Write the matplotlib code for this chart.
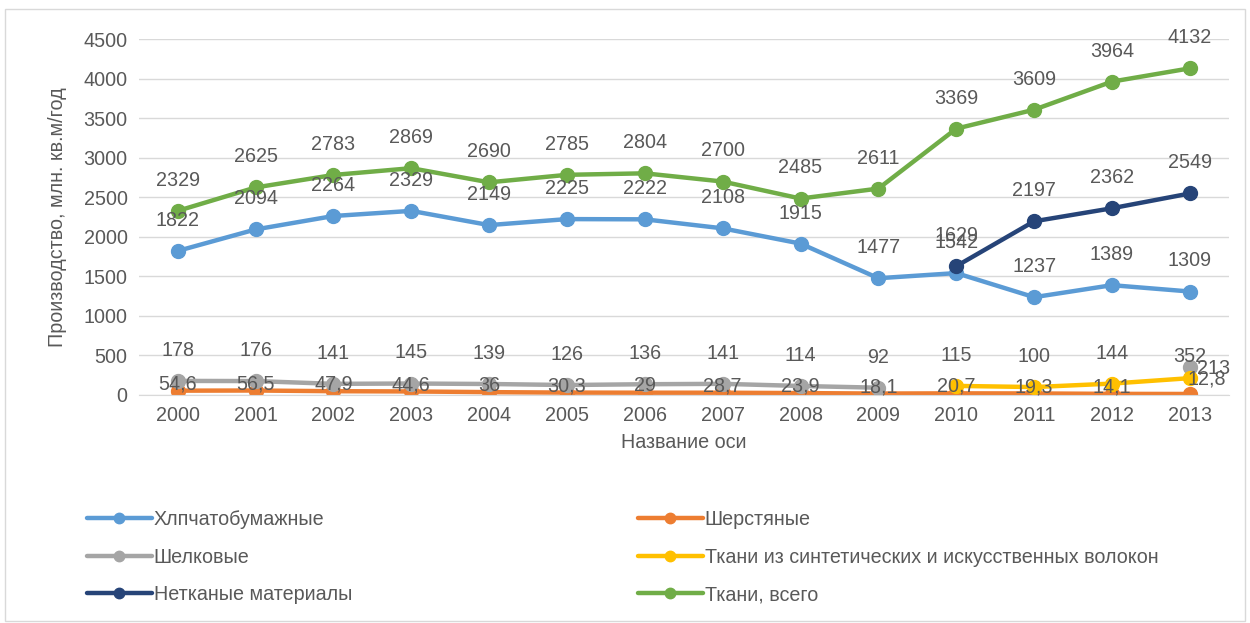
import matplotlib
matplotlib.use("Agg")
import matplotlib.pyplot as plt
from matplotlib.patches import Rectangle

plt.rcParams['font.family'] = ['Liberation Sans', 'DejaVu Sans']

years = ['2000', '2001', '2002', '2003', '2004', '2005', '2006',
         '2007', '2008', '2009', '2010', '2011', '2012', '2013']

cotton = [1822, 2094, 2264, 2329, 2149, 2225, 2222, 2108, 1915, 1477, 1542, 1237, 1389, 1309]
wool = [54.6, 56.5, 47.9, 44.6, 36, 30.3, 29, 28.7, 23.9, 18.1, 20.7, 19.3, 14.1, 12.8]
silk = [178, 176, 141, 145, 139, 126, 136, 141, 114, 92, None, None, None, 352]
synth = [None] * 10 + [115, 100, 144, 213]
nonwoven = [None] * 10 + [1629, 2197, 2362, 2549]
total = [2329, 2625, 2783, 2869, 2690, 2785, 2804, 2700, 2485, 2611, 3369, 3609, 3964, 4132]

names = ['Хлпчатобумажные', 'Шерстяные', 'Шелковые',
         'Ткани из синтетических и искусственных волокон',
         'Нетканые материалы', 'Ткани, всего']
colors = ['#5B9BD5', '#ED7D31', '#A5A5A5', '#FFC000', '#264478', '#70AD47']

txt = '#595959'
fs = 14.2

fig = plt.figure(figsize=(12.5, 6.23), dpi=100)
ax = fig.add_axes([0.111, 0.366, 0.872, 0.571])
fig.patches.append(Rectangle((0.004, 0.003), 0.992, 0.983, transform=fig.transFigure,
                             fill=False, edgecolor='#D9D9D9', linewidth=1))

x = list(range(len(years)))
series = [cotton, wool, silk, synth, nonwoven, total]
handles = []
for vals, name, c in zip(series, names, colors):
    # split into runs so gaps stay empty
    runs, cur = [], []
    for i, v in zip(x, vals):
        if v is None:
            if cur:
                runs.append(cur)
            cur = []
        else:
            cur.append((i, v))
    if cur:
        runs.append(cur)
    for r in runs:
        h, = ax.plot([p[0] for p in r], [p[1] for p in r], color=c, linewidth=3.2,
                     marker='o', markersize=10, solid_capstyle='round', label=name)
    handles.append(h)


def fmt(v):
    return ('%g' % v).replace('.', ',')


def labels(vals, dx=0, dy=22, skip=()):
    for i, v in zip(x, vals):
        if v is None or i in skip:
            continue
        ax.annotate(fmt(v), (i, v), xytext=(dx, dy), textcoords='offset points',
                    ha='center', va='center', fontsize=fs, color=txt)


labels(cotton)
labels(silk, skip=(13,))
labels(total)
labels(nonwoven)
labels(synth, skip=(13,))
labels(wool, dy=5, skip=(13,))
ax.annotate(fmt(silk[13]), (13, silk[13]), xytext=(0, 8), textcoords='offset points',
            ha='center', va='center', fontsize=fs, color=txt)
ax.annotate(fmt(wool[13]), (13, wool[13]), xytext=(12, 11), textcoords='offset points',
            ha='center', va='center', fontsize=fs, color=txt)
ax.annotate(fmt(synth[13]), (13, synth[13]), xytext=(17, 7), textcoords='offset points',
            ha='center', va='center', fontsize=fs, color=txt)

ax.set_xlim(-0.5, 13.5)
ax.set_ylim(0, 4500)
ax.set_yticks(range(0, 4501, 500))
ax.set_xticks(x)
ax.set_xticklabels(years)
ax.grid(axis='y', color='#D9D9D9', linewidth=1)
ax.set_axisbelow(True)
for s in ['top', 'right', 'left']:
    ax.spines[s].set_visible(False)
ax.spines['bottom'].set_color('#D9D9D9')
ax.tick_params(axis='both', length=0, labelsize=fs, colors=txt, pad=8)
ax.set_xlabel('Название оси', fontsize=fs, color=txt, labelpad=6)
ax.set_ylabel('Производство, млн. кв.м/год', fontsize=fs, color=txt, labelpad=12)

leg_kw = dict(frameon=False, fontsize=fs, handlelength=3.3, handletextpad=0.1,
              labelspacing=0.95, labelcolor=txt, markerscale=0.75)
l1 = fig.legend(handles[0::2], names[0::2], loc='upper left',
                bbox_to_anchor=(0.055, 0.21), **leg_kw)
l2 = fig.legend(handles[1::2], names[1::2], loc='upper left',
                bbox_to_anchor=(0.496, 0.21), **leg_kw)

fig.savefig('out.png', dpi=100)
